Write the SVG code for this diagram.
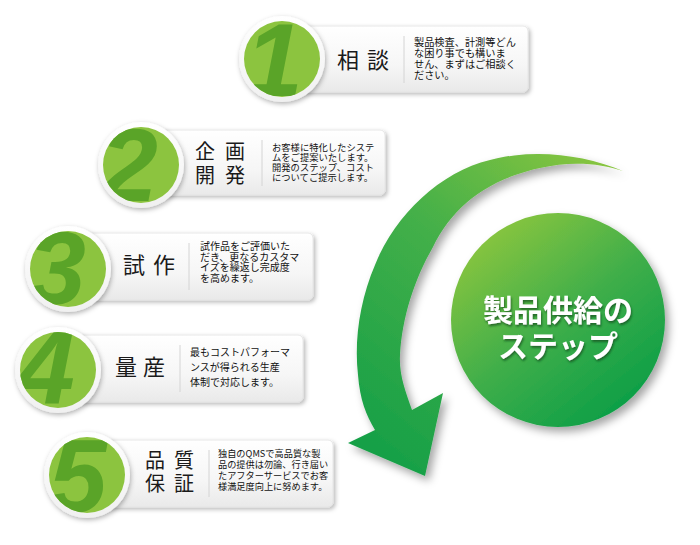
<svg xmlns="http://www.w3.org/2000/svg" width="700" height="545" viewBox="0 0 700 545">
  <style>
    .card { fill: url(#cardGrad); stroke: #e2e2e2; stroke-width: 0.8; filter: url(#cardShadow); }
    .divider { stroke: #d4d4d4; stroke-width: 1; }
    .title { font-family: "Noto Sans CJK JP", "Noto Sans", sans-serif; fill: #1a1a1a; }
    .desc { font-family: "Noto Sans CJK JP", "Noto Sans", sans-serif; fill: #111; }
    .ring { fill: url(#ringGrad); filter: url(#ringShadow); }
    .disc { fill: #8cc43f; }
    .digit { font-family: "Liberation Sans", Arial, sans-serif; font-weight: bold; font-style: italic; font-size: 104px; fill: #5aa428; text-anchor: middle; }
    .hub-text { font-family: "Noto Sans CJK JP", "Noto Sans", sans-serif; font-weight: bold; font-size: 30px; fill: #ffffff; text-anchor: middle; filter: url(#textShadow); }
  </style>
  <defs>
    <linearGradient id="cardGrad" x1="0" y1="0" x2="0" y2="1">
      <stop offset="0" stop-color="#ffffff"/>
      <stop offset="0.6" stop-color="#f6f6f6"/>
      <stop offset="1" stop-color="#e9e9e9"/>
    </linearGradient>
    <linearGradient id="ringGrad" x1="0" y1="0" x2="0" y2="1">
      <stop offset="0" stop-color="#ffffff"/>
      <stop offset="1" stop-color="#f0f0f0"/>
    </linearGradient>
    <linearGradient id="arrowGrad" gradientUnits="userSpaceOnUse" x1="620" y1="160" x2="380" y2="450">
      <stop offset="0" stop-color="#8cc63f"/>
      <stop offset="0.45" stop-color="#45b048"/>
      <stop offset="1" stop-color="#17a047"/>
    </linearGradient>
    <linearGradient id="hubGrad" gradientUnits="userSpaceOnUse" x1="480" y1="230" x2="630" y2="420">
      <stop offset="0" stop-color="#8cc63f"/>
      <stop offset="0.5" stop-color="#3fae49"/>
      <stop offset="1" stop-color="#079d46"/>
    </linearGradient>
    <filter id="cardShadow" x="-10%" y="-20%" width="125%" height="150%">
      <feDropShadow dx="2" dy="2" stdDeviation="2" flood-color="#000" flood-opacity="0.28"/>
    </filter>
    <filter id="ringShadow" x="-30%" y="-30%" width="160%" height="160%">
      <feDropShadow dx="1" dy="2" stdDeviation="2.5" flood-color="#000" flood-opacity="0.3"/>
    </filter>
    <filter id="bigShadow" x="-20%" y="-20%" width="150%" height="150%">
      <feDropShadow dx="4" dy="5" stdDeviation="4" flood-color="#000" flood-opacity="0.35"/>
    </filter>
    <filter id="textShadow" x="-10%" y="-30%" width="120%" height="160%">
      <feDropShadow dx="1" dy="2" stdDeviation="1.2" flood-color="#0a4a1c" flood-opacity="0.7"/>
    </filter>
    <clipPath id="clip1"><circle cx="282" cy="59" r="38"/></clipPath>
    <clipPath id="clip2"><circle cx="141" cy="165" r="38"/></clipPath>
    <clipPath id="clip3"><circle cx="68" cy="269" r="38"/></clipPath>
    <clipPath id="clip4"><circle cx="58" cy="370" r="38"/></clipPath>
    <clipPath id="clip5"><circle cx="87" cy="475" r="38"/></clipPath>
  </defs>

  <!-- connector: the circular flow arrow -->
  <g id="connectors">
    <path id="cycle-arrow" fill="url(#arrowGrad)" filter="url(#bigShadow)"
      d="M 623,171 C 585,155 535,148 490,160 C 440,172 395,215 375,265 C 360,300 354,340 358,375 C 360,400 366,415 375,430 L 348,443 L 425,476 L 443,393 L 412,410 C 405,390 399,375 400,355 C 402,318 414,280 433,247 C 452,208 485,180 540,168 C 570,161 600,163 623,171 Z"/>
  </g>

  <g id="hub">
    <circle cx="558" cy="320" r="107" fill="url(#hubGrad)" filter="url(#bigShadow)"/>
    <text class="hub-text" x="558" y="321">製品供給の</text>
    <text class="hub-text" x="558" y="357">ステップ</text>
  </g>

  <g id="step1">
    <rect class="card" x="282" y="26" width="246" height="66" rx="5"/>
    <text class="title" font-size="22" x="337 367" y="68">相談</text>
    <line class="divider" x1="404" y1="36" x2="404" y2="83"/>
    <text class="desc" font-size="10.2">
      <tspan x="414" y="46">製品検査、計測等どん</tspan>
      <tspan x="414" y="57">な困り事でも構いま</tspan>
      <tspan x="414" y="68">せん、まずはご相談く</tspan>
      <tspan x="414" y="79">ださい。</tspan>
    </text>
    <circle class="ring" cx="282" cy="59" r="43"/>
    <circle class="disc" cx="282" cy="59" r="38"/>
    <text class="digit" x="274" y="96" clip-path="url(#clip1)">1</text>
  </g>

  <g id="step2">
    <rect class="card" x="141" y="130" width="244" height="65" rx="5"/>
    <text class="title" font-size="20" x="195 225" y="159">企画</text>
    <text class="title" font-size="20" x="195 225" y="183">開発</text>
    <line class="divider" x1="262" y1="140" x2="262" y2="186"/>
    <text class="desc" font-size="9.3">
      <tspan x="272" y="151">お客様に特化したシステ</tspan>
      <tspan x="272" y="161">ムをご提案いたします。</tspan>
      <tspan x="272" y="171">開発のステップ、コスト</tspan>
      <tspan x="272" y="181">についてご提示します。</tspan>
    </text>
    <circle class="ring" cx="141" cy="165" r="43"/>
    <circle class="disc" cx="141" cy="165" r="38"/>
    <text class="digit" x="129" y="201" clip-path="url(#clip2)">2</text>
  </g>

  <g id="step3">
    <rect class="card" x="68" y="233" width="245" height="67" rx="5"/>
    <text class="title" font-size="22" x="123 153" y="273">試作</text>
    <line class="divider" x1="189" y1="243" x2="189" y2="290"/>
    <text class="desc" font-size="10">
      <tspan x="200" y="250">試作品をご評価いた</tspan>
      <tspan x="200" y="261">だき、更なるカスタマ</tspan>
      <tspan x="200" y="271">イズを繰返し完成度</tspan>
      <tspan x="200" y="282">を高めます。</tspan>
    </text>
    <circle class="ring" cx="68" cy="269" r="43"/>
    <circle class="disc" cx="68" cy="269" r="38"/>
    <text class="digit" x="57" y="304" clip-path="url(#clip3)">3</text>
  </g>

  <g id="step4">
    <rect class="card" x="58" y="335" width="245" height="67" rx="5"/>
    <text class="title" font-size="22" x="115 143" y="375">量産</text>
    <line class="divider" x1="180" y1="345" x2="180" y2="392"/>
    <text class="desc" font-size="10">
      <tspan x="190" y="356">最もコストパフォーマ</tspan>
      <tspan x="190" y="371">ンスが得られる生産</tspan>
      <tspan x="190" y="386">体制で対応します。</tspan>
    </text>
    <circle class="ring" cx="58" cy="370" r="43"/>
    <circle class="disc" cx="58" cy="370" r="38"/>
    <text class="digit" x="46" y="404" clip-path="url(#clip4)">4</text>
  </g>

  <g id="step5">
    <rect class="card" x="87" y="440" width="246" height="67" rx="5"/>
    <text class="title" font-size="20" x="145 174" y="468">品質</text>
    <text class="title" font-size="20" x="145 174" y="491">保証</text>
    <line class="divider" x1="209" y1="450" x2="209" y2="497"/>
    <text class="desc" font-size="9.2">
      <tspan x="218" y="457">独自のQMSで高品質な製</tspan>
      <tspan x="218" y="468">品の提供は勿論、行き届い</tspan>
      <tspan x="218" y="479">たアフターサービスでお客</tspan>
      <tspan x="218" y="490">様満足度向上に努めます。</tspan>
    </text>
    <circle class="ring" cx="87" cy="475" r="43"/>
    <circle class="disc" cx="87" cy="475" r="38"/>
    <text class="digit" x="78" y="512" clip-path="url(#clip5)">5</text>
  </g>
</svg>
